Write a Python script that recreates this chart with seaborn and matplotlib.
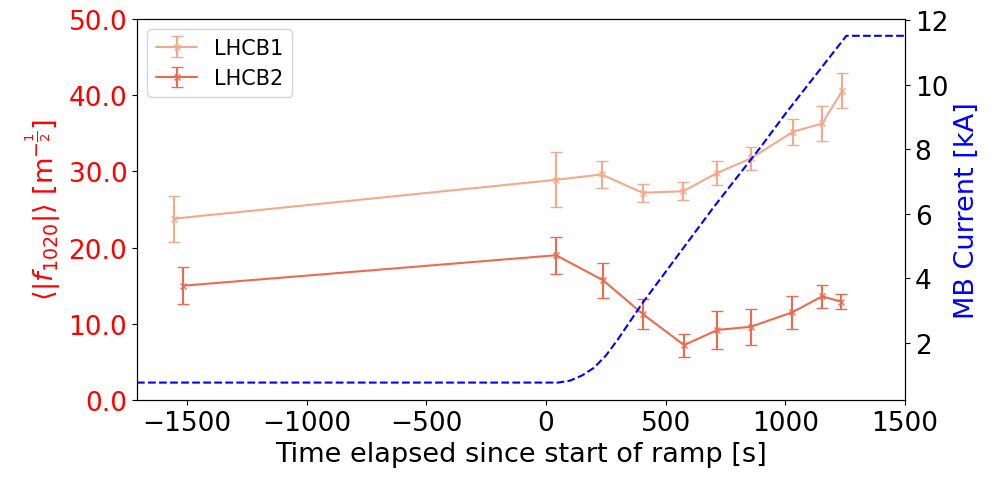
import matplotlib
matplotlib.use("Agg")
import matplotlib.pyplot as plt
import matplotlib.ticker as mtick
import pandas as pd
import seaborn as sns

# beam measurements of <|f1020|> during the ramp
t_b1 = [-1555, 42, 232, 403, 573, 715, 855, 1032, 1154, 1238]
f_b1 = [23.8, 28.9, 29.6, 27.2, 27.4, 29.8, 31.7, 35.2, 36.3, 40.6]
err_b1 = [3.0, 3.6, 1.8, 1.2, 1.2, 1.6, 1.5, 1.7, 2.3, 2.3]

t_b2 = [-1517, 42, 239, 403, 577, 716, 855, 1028, 1154, 1234]
f_b2 = [15.0, 19.0, 15.7, 11.3, 7.2, 9.2, 9.6, 11.5, 13.6, 12.9]
err_b2 = [2.4, 2.4, 2.3, 2.0, 1.5, 2.5, 2.4, 2.2, 1.5, 1.0]

# main dipole current
t_mb = [-1710, 0, 50, 100, 150, 200, 250, 300, 400, 500, 600, 700, 800,
        900, 1000, 1100, 1200, 1255, 1500]
i_mb = [0.76, 0.76, 0.76, 0.82, 0.98, 1.22, 1.6, 2.1, 3.2, 4.2, 5.2, 6.2,
        7.15, 8.1, 9.1, 10.05, 11.0, 11.52, 11.52]

mb = pd.DataFrame({"t": t_mb, "I": i_mb})

sns.set_style("ticks")
plt.rcParams["font.family"] = ["DejaVu Sans"]
plt.rcParams["axes.edgecolor"] = "black"
plt.rcParams["axes.labelcolor"] = "black"
plt.rcParams["xtick.color"] = "black"
plt.rcParams["ytick.color"] = "black"
plt.rcParams["text.color"] = "black"

fig, ax = plt.subplots(figsize=(10, 4.89), dpi=100)
fig.subplots_adjust(left=0.137, right=0.905, top=0.959, bottom=0.18)

ax.errorbar(t_b1, f_b1, yerr=err_b1, color="#f5a98c", marker="x", ms=5,
            lw=1.5, capsize=4, label="LHCB1")
ax.errorbar(t_b2, f_b2, yerr=err_b2, color="#ee6a4f", marker="x", ms=5,
            lw=1.5, capsize=4, label="LHCB2")

ax.set_xlim(-1710, 1500)
ax.set_ylim(0, 50)
ax.yaxis.set_major_formatter(mtick.FormatStrFormatter("%.1f"))
ax.tick_params(axis="both", labelsize=19)
ax.tick_params(axis="y", labelcolor="red")
ax.set_xlabel("Time elapsed since start of ramp [s]", size=19.5)
ax.set_ylabel(r"$\langle|f_{1020}|\rangle$ [m$^{-\frac{1}{2}}$]", size=19.5,
              color="red")
ax.legend(loc="upper left", fontsize=15)

ax2 = ax.twinx()
sns.lineplot(data=mb, x="t", y="I", ax=ax2, color="blue", linestyle="--",
             lw=1.5)
ax2.set_ylim(0.22, 12.04)
ax2.set_yticks([2, 4, 6, 8, 10, 12])
ax2.tick_params(axis="y", labelsize=19)
ax2.set_ylabel("MB Current [kA]", size=19.5, color="blue")

fig.savefig("out.png", dpi=100)
